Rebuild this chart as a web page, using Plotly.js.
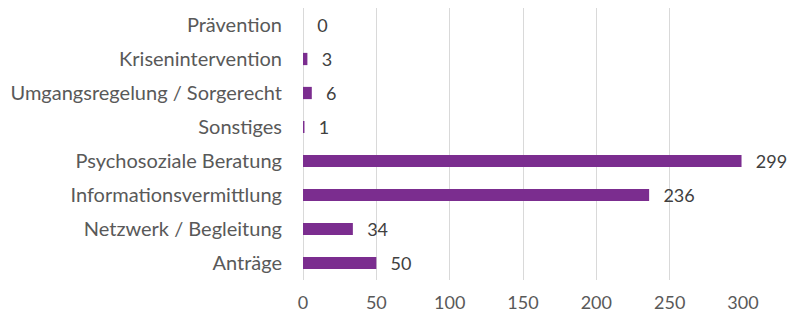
<!DOCTYPE html>
<html><head><meta charset="utf-8">
<script src="https://cdn.plot.ly/plotly-3.0.1.min.js"></script>
<style>html,body{margin:0;padding:0;background:#fff}#c{width:792px;height:320px}</style>
</head><body><div id="c"></div>
<script>
const categories = ["Prävention","Krisenintervention","Umgangsregelung / Sorgerecht","Sonstiges","Psychosoziale Beratung","Informationsvermittlung","Netzwerk / Begleitung","Anträge"];
const values = [0,3,6,1,299,236,34,50];
const xTicks = [0,50,100,150,200,250,300];

Plotly.newPlot('c', [{
  type: 'bar', orientation: 'h',
  y: categories, x: values,
  marker: {color: '#7b2d8f'},
  text: values.map(v => '\u2002\u2009' + v),
  textposition: 'outside', cliponaxis: false, constraintext: 'none',
  textfont: {family: 'Lato, sans-serif', size: 18, color: '#404040'},
  hoverinfo: 'none'
}], {
  width: 792, height: 320,
  margin: {l: 303, r: 49, t: 8, b: 40},
  paper_bgcolor: '#fff', plot_bgcolor: '#fff',
  bargap: 0.64,
  showlegend: false,
  font: {family: 'Lato, sans-serif', size: 18, color: '#595959'},
  xaxis: {range: [0, 300], tickvals: xTicks, ticktext: xTicks.map(String),
          showgrid: true, gridcolor: '#d9d9d9', gridwidth: 1,
          zeroline: true, zerolinecolor: '#d9d9d9', zerolinewidth: 1,
          showline: false, ticks: '', ticklabelstandoff: 10, fixedrange: true,
          tickfont: {size: 18, color: '#595959'}},
  yaxis: {autorange: 'reversed', showgrid: false, zeroline: false, showline: false,
          ticks: '', ticklabelstandoff: 20, fixedrange: true,
          tickfont: {size: 20, color: '#595959'}}
}, {staticPlot: true});
</script></body></html>
